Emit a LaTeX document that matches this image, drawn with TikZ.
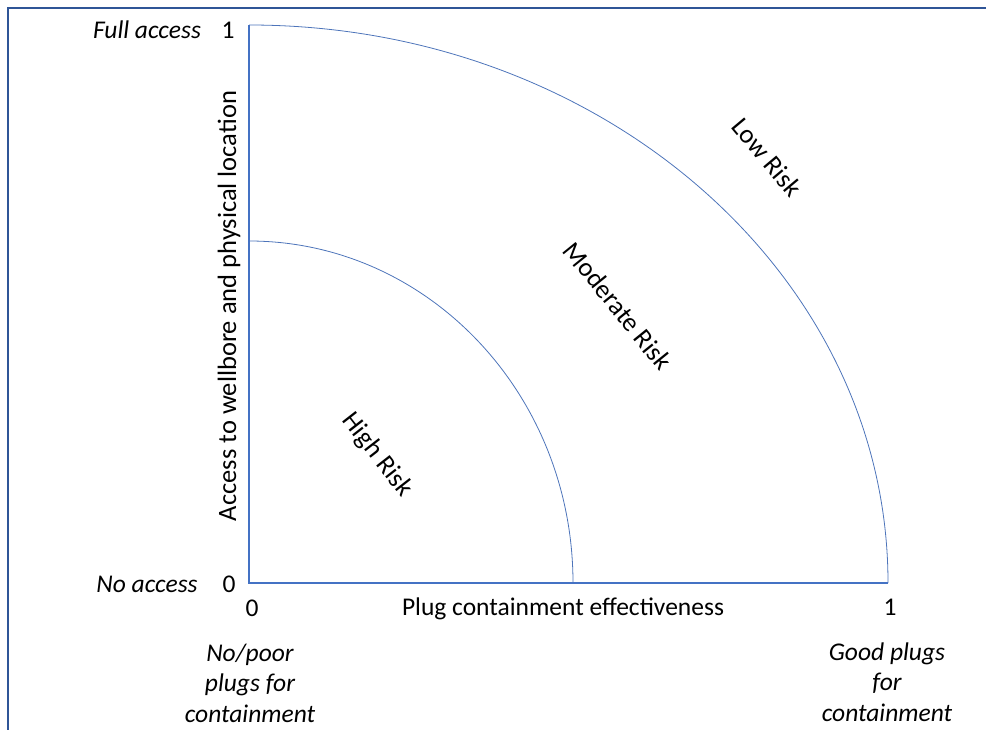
\documentclass[tikz,border=0pt]{standalone}
\usepackage{fontspec}
\setmainfont{Carlito}
\definecolor{axisblue}{HTML}{4472C4}
\definecolor{frameblue}{HTML}{2F5597}
\begin{document}
\begin{tikzpicture}[x=1pt,y=-1pt,
  lbl/.style={inner sep=0pt,font=\fontsize{25.5}{30}\selectfont},
  big/.style={inner sep=0pt,font=\fontsize{26.5}{30}\selectfont},
  ital/.style={inner sep=0pt,font=\fontsize{25.5}{30.5}\selectfont\itshape,align=center},
  axisline/.style={draw=axisblue,line width=1.8pt},
  zoneline/.style={draw=axisblue!85!gray,line width=0.8pt},
  frameline/.style={draw=frameblue,line width=1.6pt}]
\useasboundingbox (0,0) rectangle (986,730);
% frame
\coordinate (fTL) at (8,8);
\coordinate (fTR) at (986,8);
\coordinate (fBL) at (8,730);
\draw[frameline] (fBL) -- (fTL) -- (fTR);
% axes
\coordinate (O) at (249,583);
\coordinate (Ytop) at (249,25);
\coordinate (Xend) at (888,583);
\coordinate (Iend) at (573,583);
\draw[zoneline] (Xend) arc[start angle=0,end angle=90,x radius=639pt,y radius=558pt];
\draw[zoneline] (Iend) arc[start angle=0,end angle=90,x radius=324pt,y radius=342pt];
\draw[axisline] (Ytop) -- (O) -- (Xend);
% tick labels
\node[lbl,anchor=base] (y1) at (228,39) {1};
\node[lbl,anchor=base] (y0) at (229,592) {0};
\node[lbl,anchor=base] (x0) at (252,616) {0};
\node[lbl,anchor=base] (x1) at (890,615) {1};
\node[ital,anchor=base] (full) at (147,39) {Full access};
\node[ital,anchor=base] (noacc) at (147,592) {No access};
% axis titles
\node[lbl,anchor=base] (xt) at (563,615) {Plug containment effectiveness};
\node[big,rotate=90] (yt) at (229,306) {Access to wellbore and physical location};
% end descriptions
\node[ital,anchor=base] (nopoor) at (250,722) {No/poor\\plugs for\\containment};
\node[ital,anchor=base] (good) at (887,721) {Good plugs\\for\\containment};
% zones
\node[big,rotate=-50] (low) at (767,157) {Low Risk};
\node[big,rotate=-51] (mod) at (618,306) {Moderate Risk};
\node[big,rotate=-52] (high) at (377,455) {High Risk};
\end{tikzpicture}
\end{document}
